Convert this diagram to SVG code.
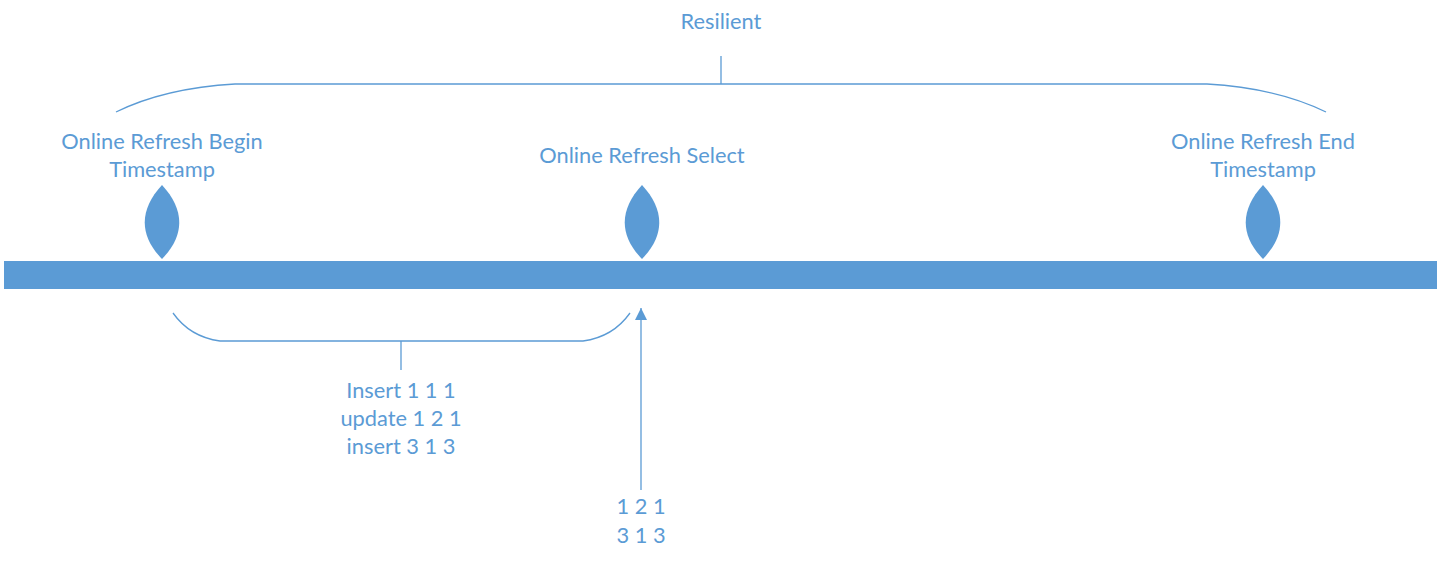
<svg xmlns="http://www.w3.org/2000/svg" width="1441" height="563" viewBox="0 0 1441 563">
<style>
.t{font-family:Lato,"Open Sans","Liberation Sans",sans-serif;font-size:21.8px;fill:#5B9BD5;text-anchor:middle}
.ln{fill:none;stroke:#5B9BD5;stroke-width:1.3}
.drop{fill:#5B9BD5}
</style>
<defs>
<marker id="ah" viewBox="0 0 10 10" refX="10" refY="5" markerWidth="17" markerHeight="12" markerUnits="userSpaceOnUse" orient="auto">
<path d="M0,0 L10,5 L0,10 Z" fill="#5B9BD5"/>
</marker>
</defs>
<rect id="timeline" x="4" y="261" width="1433" height="28" fill="#5B9BD5"/>
<g id="begin">
<path class="drop" d="M162,185 C139,210 139,235 162,259 C185,235 185,210 162,185 Z"/>
<text class="t" x="162" y="149">Online Refresh Begin</text>
<text class="t" x="162" y="177">Timestamp</text>
</g>
<g id="select">
<path class="drop" d="M642,185 C619,210 619,235 642,259 C665,235 665,210 642,185 Z"/>
<text class="t" x="642" y="163">Online Refresh Select</text>
</g>
<g id="end">
<path class="drop" d="M1263,185 C1240,210 1240,235 1263,259 C1286,235 1286,210 1263,185 Z"/>
<text class="t" x="1263" y="149">Online Refresh End</text>
<text class="t" x="1263" y="177">Timestamp</text>
</g>
<g id="resilient">
<text class="t" x="721" y="29">Resilient</text>
</g>
<g id="changes">
<text class="t" x="401" y="398">Insert 1 1 1</text>
<text class="t" x="401" y="426">update 1 2 1</text>
<text class="t" x="401" y="454">insert 3 1 3</text>
</g>
<g id="result">
<text class="t" x="641" y="514">1 2 1</text>
<text class="t" x="641" y="543">3 1 3</text>
</g>
<g id="connectors">
<path class="ln" d="M116,112 Q165,88 235,84 L1207,84 Q1277,88 1326,112"/>
<path class="ln" d="M721,56 L721,84"/>
<path class="ln" d="M173,313 Q190,337 220,341 L583,341 Q613,337 630,313"/>
<path class="ln" d="M401,341 L401,370"/>
<path class="ln" d="M641,490 L641,308" marker-end="url(#ah)"/>
</g>
</svg>
